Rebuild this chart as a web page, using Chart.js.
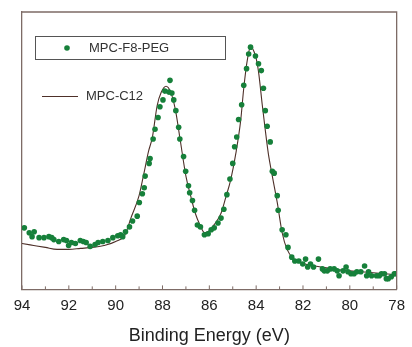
<!DOCTYPE html>
<html>
<head>
<meta charset="utf-8">
<script src="https://cdn.jsdelivr.net/npm/chart.js@4"></script>
<style>
html, body { margin: 0; padding: 0; background: #fff; }
</style>
</head>
<body>
<canvas id="myChart" width="412" height="347"></canvas>
<script>
// MPC-C12 (solid line)
const c12Energy = [94.0, 93.5, 93.0, 92.5, 92.0, 91.5, 91.0, 90.5, 90.0, 89.6, 89.35, 89.0, 88.8, 88.6, 88.43, 88.23, 88.05, 87.85, 87.65, 87.45, 87.25, 87.0, 86.8, 86.6, 86.4, 86.2, 86.0, 85.8, 85.5, 85.3, 85.08, 84.87, 84.66, 84.53, 84.37, 84.24, 84.03, 83.9, 83.74, 83.61, 83.48, 83.31, 83.1, 82.89, 82.68, 82.43, 82.05, 81.5, 81.0, 80.5, 80.0, 79.5, 79.0, 78.5, 78.0];
const c12Intensity = [47, 45, 43, 41, 41, 42, 43, 45, 49, 56, 73, 96, 118, 141, 156, 188, 202, 208, 202, 184, 154, 116, 96, 78, 66, 58, 60, 66, 78, 94, 113, 139, 173, 206, 236, 248, 239, 223, 189, 163, 139, 116, 89, 58, 41, 32, 27, 24, 22, 20, 19, 18, 17, 16, 15];

// MPC-F8-PEG (green dots)
const pegEnergy = [93.90, 93.69, 93.57, 93.48, 93.27, 93.06, 92.85, 92.73, 92.64, 92.43, 92.22, 92.10, 92.01, 91.89, 91.72, 91.51, 91.38, 91.26, 91.09, 90.88, 90.75, 90.55, 90.33, 90.12, 89.91, 89.79, 89.70, 89.58, 89.41, 89.28, 89.08, 88.99, 88.86, 88.78, 88.74, 88.57, 88.53, 88.40, 88.32, 88.19, 88.11, 87.98, 87.90, 87.73, 87.68, 87.60, 87.52, 87.43, 87.31, 87.26, 87.10, 87.01, 86.89, 86.84, 86.72, 86.63, 86.51, 86.38, 86.21, 86.05, 85.92, 85.79, 85.63, 85.50, 85.38, 85.25, 85.12, 85.00, 84.92, 84.83, 84.75, 84.62, 84.53, 84.41, 84.32, 84.24, 84.03, 83.90, 83.78, 83.69, 83.61, 83.53, 83.40, 83.31, 83.23, 83.10, 83.06, 82.89, 82.73, 82.64, 82.48, 82.35, 82.18, 82.01, 81.89, 81.80, 81.68, 81.55, 81.34, 81.17, 81.09, 80.96, 80.84, 80.67, 80.54, 80.46, 80.29, 80.16, 80.08, 79.95, 79.82, 79.70, 79.53, 79.37, 79.28, 79.20, 79.07, 78.86, 78.74, 78.65, 78.52, 78.44, 78.36, 78.23, 78.10, 78.05];
const pegIntensity = [63, 58, 54, 59, 53, 53, 54, 53, 51, 49, 51, 50, 45, 48, 47, 50, 49, 48, 44, 46, 48, 49, 50, 53, 55, 56, 54, 59, 64, 70, 75, 89, 98, 104, 116, 129, 134, 154, 164, 176, 187, 194, 203, 202, 214, 201, 194, 183, 166, 154, 136, 121, 106, 99, 91, 81, 66, 64, 56, 57, 61, 63, 68, 73, 82, 97, 113, 129, 146, 156, 174, 189, 209, 226, 241, 248, 239, 231, 224, 206, 183, 167, 151, 121, 119, 96, 81, 61, 56, 43, 33, 29, 29, 26, 31, 23, 26, 23, 31, 21, 19, 19, 21, 21, 19, 14, 19, 23, 18, 16, 16, 18, 18, 24, 14, 18, 14, 14, 14, 16, 16, 11, 11, 13, 16, 16];

const xTicks = [94, 92, 90, 88, 86, 84, 82, 80, 78];

const frameColor = '#7d6b66';
const dotColor = '#16803a';
const lineColor = '#4e3029';
const fontFam = '"Liberation Sans", Arial, sans-serif';

const toPoints = (xs, ys) => xs.map((x, i) => ({ x: x, y: ys[i] }));

const extras = {
    id: 'extras',
    afterDraw(chart) {
        const ctx = chart.ctx;
        const a = chart.chartArea;
        const xs = chart.scales.x;
        ctx.save();
        // top and right frame
        ctx.strokeStyle = frameColor;
        ctx.lineWidth = 1.3;
        ctx.beginPath();
        ctx.moveTo(a.left, a.top);
        ctx.lineTo(a.right, a.top);
        ctx.lineTo(a.right, a.bottom);
        ctx.stroke();
        // inward ticks
        ctx.lineWidth = 1;
        for (let v = 78; v <= 94; v++) {
            const px = xs.getPixelForValue(v);
            const len = v % 2 === 0 ? 4 : 3;
            ctx.beginPath();
            ctx.moveTo(px, a.bottom);
            ctx.lineTo(px, a.bottom - len);
            ctx.stroke();
        }
        // legend
        ctx.strokeStyle = '#555';
        ctx.lineWidth = 1;
        ctx.strokeRect(35.5, 36.5, 190, 23);
        ctx.fillStyle = dotColor;
        ctx.beginPath();
        ctx.arc(67, 48, 2.8, 0, Math.PI * 2);
        ctx.fill();
        ctx.fillStyle = '#333';
        ctx.font = '13px ' + fontFam;
        ctx.textBaseline = 'middle';
        ctx.fillText('MPC-F8-PEG', 89, 48);
        ctx.strokeStyle = lineColor;
        ctx.lineWidth = 1.2;
        ctx.beginPath();
        ctx.moveTo(42, 96.5);
        ctx.lineTo(78, 96.5);
        ctx.stroke();
        ctx.fillText('MPC-C12', 86, 96);
        ctx.restore();
    }
};

const ctx = document.getElementById('myChart').getContext('2d');
const myChart = new Chart(ctx, {
    type: 'scatter',
    data: {
        datasets: [{
            label: 'MPC-C12',
            type: 'line',
            data: toPoints(c12Energy, c12Intensity),
            borderColor: lineColor,
            borderWidth: 1.1,
            pointRadius: 0,
            cubicInterpolationMode: 'monotone',
            fill: false,
            order: 2
        }, {
            label: 'MPC-F8-PEG',
            data: toPoints(pegEnergy, pegIntensity),
            backgroundColor: dotColor,
            borderColor: dotColor,
            borderWidth: 0,
            pointRadius: 2.8,
            showLine: false,
            order: 1
        }]
    },
    options: {
        responsive: false,
        devicePixelRatio: 1,
        animation: false,
        layout: {
            padding: { left: 22, right: 9, top: 12, bottom: 0 }
        },
        plugins: {
            legend: { display: false },
            tooltip: { enabled: false }
        },
        scales: {
            x: {
                type: 'linear',
                reverse: true,
                min: 78,
                max: 94,
                afterBuildTicks: (scale) => {
                    scale.ticks = xTicks.map(v => ({ value: v }));
                },
                ticks: {
                    color: '#222',
                    font: { family: fontFam, size: 15 },
                    padding: 7,
                    maxRotation: 0
                },
                grid: { display: false, drawTicks: false },
                border: { color: frameColor, width: 1.3 },
                title: {
                    display: true,
                    text: 'Binding Energy (eV)',
                    color: '#222',
                    font: { family: fontFam, size: 18 },
                    padding: { top: 4, bottom: 0 }
                }
            },
            y: {
                min: 0,
                max: 284,
                ticks: { display: false },
                grid: { display: false, drawTicks: false },
                border: { color: frameColor, width: 1.3 }
            }
        }
    },
    plugins: [extras]
});
</script>
</body>
</html>
